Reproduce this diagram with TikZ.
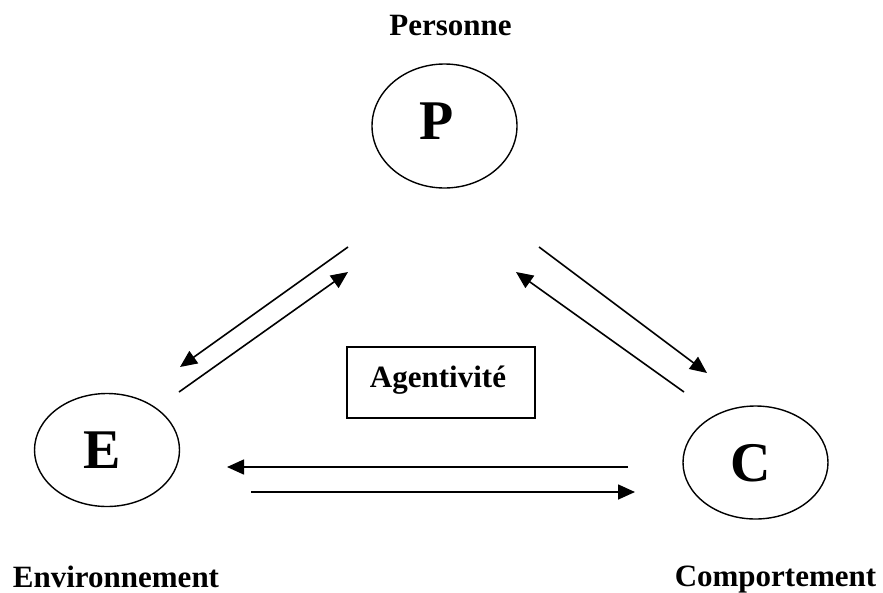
\documentclass[tikz,border=0pt]{standalone}
\usepackage{fontspec}
\setmainfont{Liberation Serif}
\usetikzlibrary{shapes.geometric,arrows.meta}
\tikzset{
  circ/.style={draw, ellipse, line width=1.4pt, minimum width=145pt, minimum height=113pt, inner sep=0pt},
  letter/.style={font=\fontsize{56}{56}\selectfont\bfseries, inner sep=0pt},
  lbl/.style={font=\fontsize{31}{31}\selectfont\bfseries, inner sep=0pt, anchor=base, text depth=0pt},
  conn/.style={line width=1.6pt, -{Triangle[length=17pt,width=15pt]}},
  framebox/.style={draw, line width=1.6pt, minimum width=188pt, minimum height=71pt, inner sep=0pt}
}
\begin{document}
\begin{tikzpicture}[x=1pt,y=-1pt]
\useasboundingbox (0,0) rectangle (883,592);
% ellipses
\node[circ, minimum height=124pt] (P) at (444.5,126) {};
\node[circ] (E) at (107,450) {};
\node[circ] (C) at (755.5,462.5) {};
\node[letter] (Pl) at (437,121) {P};
\node[letter] (El) at (102,450) {E};
\node[letter] (Cl) at (751,463) {C};
% labels
\node[lbl] (Pt) at (450.5,35) {Personne};
\node[lbl] (Et) at (116,587) {Environnement};
\node[lbl] (Ct) at (775.5,586) {Comportement};
% box
\node[framebox] (box) at (441,382.5) {};
\node[lbl] (boxt) at (438,387) {Agentivité};
% arrow endpoints
\coordinate (a1s) at (348,247); \coordinate (a1e) at (180,367);
\coordinate (a2s) at (179,392); \coordinate (a2e) at (348,272);
\coordinate (b1s) at (539,247); \coordinate (b1e) at (707,373);
\coordinate (b2s) at (684,392); \coordinate (b2e) at (516,272);
\coordinate (c1s) at (628,467); \coordinate (c1e) at (227,467);
\coordinate (c2s) at (251,492); \coordinate (c2e) at (635,492);
\draw[conn] (a1s) -- (a1e);
\draw[conn] (a2s) -- (a2e);
\draw[conn] (b1s) -- (b1e);
\draw[conn] (b2s) -- (b2e);
\draw[conn] (c1s) -- (c1e);
\draw[conn] (c2s) -- (c2e);
\end{tikzpicture}
\end{document}
